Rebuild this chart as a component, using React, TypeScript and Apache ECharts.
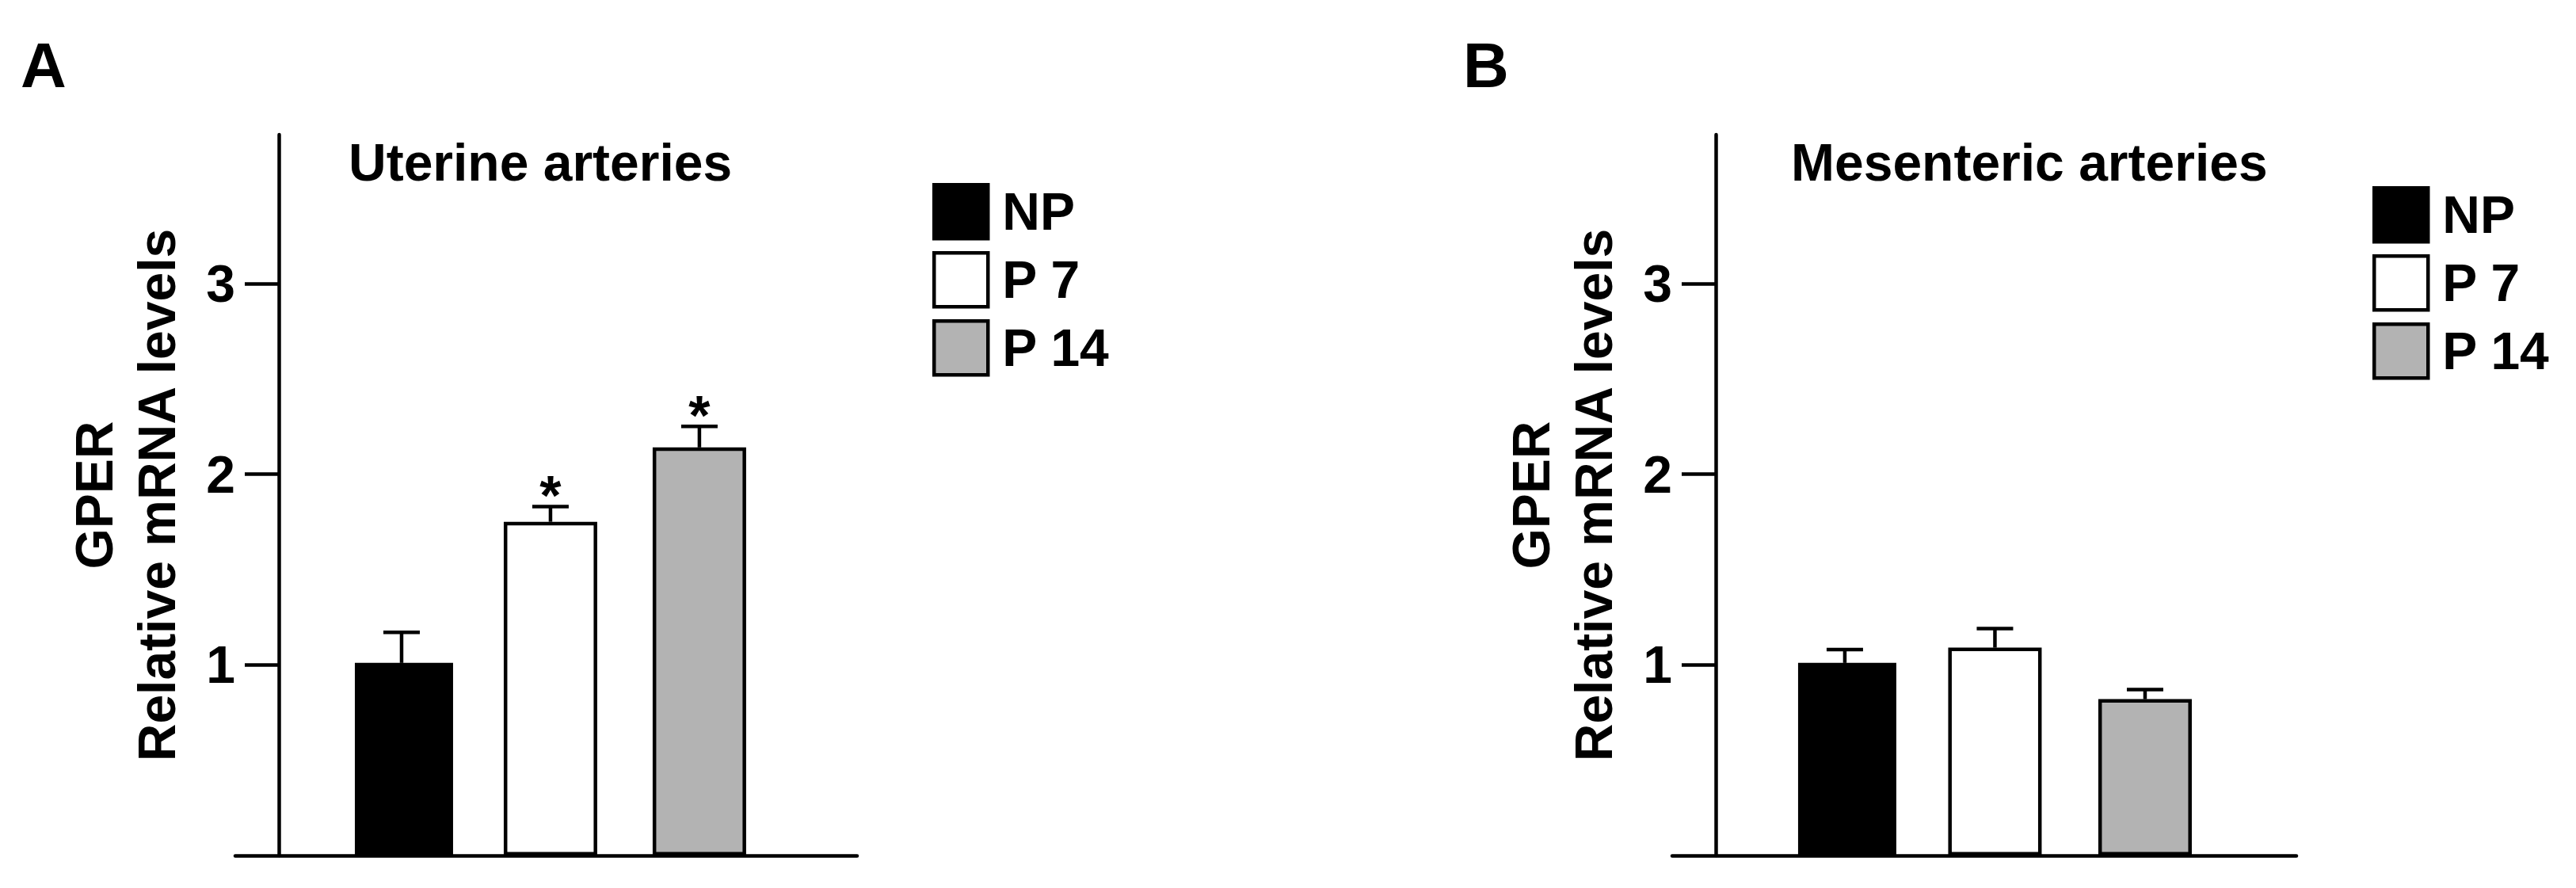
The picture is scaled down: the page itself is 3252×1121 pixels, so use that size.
import React, { useEffect, useRef } from "react";
import * as echarts from "echarts";

const categories = ["NP", "P 7", "P 14"];
const uterineMeans = [1.01, 1.75, 2.14];
const uterineSem = [0.16, 0.08, 0.11];
const uterineSig = ["", "*", "*"];
const mesentericMeans = [1.01, 1.09, 0.82];
const mesentericSem = [0.07, 0.1, 0.05];
const mesentericSig = ["", "", ""];
const yTicks = [1, 2, 3];
const panelTitles = ["Uterine arteries", "Mesenteric arteries"];
const panelLetters = ["A", "B"];
const yAxisName = "GPER\nRelative mRNA levels";

const FONT = "Liberation Sans, Arial, Helvetica, sans-serif";
const fills = ["#000000", "#ffffff", "#b3b3b3"];
const LW = 4.5;

export default function App() {
  const ref = useRef<HTMLDivElement>(null);
  useEffect(() => {
    if (!ref.current) return;
    const chart = echarts.init(ref.current, null, { renderer: "svg" });

    const panels = [
      { means: uterineMeans, sem: uterineSem, sig: uterineSig, left: 297, width: 785, xMin: -0.117, xMax: 4.059, titleLeft: 440, legendLeft: 1177, legendTop: 231, letterLeft: 26 },
      { means: mesentericMeans, sem: mesentericSem, sig: mesentericSig, left: 2111, width: 788, xMin: -0.15, xMax: 4.008, titleLeft: 2261, legendLeft: 2995, legendTop: 235, letterLeft: 1847 },
    ];

    const grid: any[] = [];
    const xAxis: any[] = [];
    const yAxis: any[] = [];
    const series: any[] = [];
    const title: any[] = [];
    const legend: any[] = [];

    panels.forEach((p, pi) => {
      grid.push({ left: p.left, width: p.width, top: 170, height: 910, containLabel: false });
      xAxis.push({
        type: "value",
        gridIndex: pi,
        min: p.xMin,
        max: p.xMax,
        axisLine: { show: true, onZero: false, lineStyle: { color: "#000", width: LW } },
        axisTick: { show: false },
        axisLabel: { show: false },
        splitLine: { show: false },
      });
      yAxis.push({
        type: "value",
        gridIndex: pi,
        min: 0,
        max: 3.78,
        interval: 1,
        offset: -55,
        axisLine: { show: true, onZero: false, lineStyle: { color: "#000", width: LW } },
        axisTick: { show: true, length: 43, customValues: yTicks, lineStyle: { color: "#000", width: LW } },
        axisLabel: { customValues: yTicks, margin: 55, fontSize: 66, fontWeight: "bold", color: "#000", fontFamily: FONT },
        splitLine: { show: false },
        name: yAxisName,
        nameLocation: "middle",
        nameRotate: 90,
        nameGap: 115,
        nameTextStyle: { fontSize: 66, fontWeight: "bold", color: "#000", fontFamily: FONT, lineHeight: 79, align: "center" },
      });
      categories.forEach((c, i) => {
        series.push({
          type: "bar",
          name: c,
          xAxisIndex: pi,
          yAxisIndex: pi,
          data: [[i + 1, p.means[i]]],
          barWidth: i === 0 ? 124 : 118,
          barGap: "-100%",
          itemStyle: { color: fills[i], borderColor: "#000", borderWidth: i === 0 ? 0 : LW },
          z: 2,
        });
      });
      series.push({
        type: "custom",
        name: "err" + pi,
        xAxisIndex: pi,
        yAxisIndex: pi,
        data: p.means.map((m, i) => [i + 1, m, m + p.sem[i]]),
        z: 3,
        renderItem: (params: any, api: any) => {
          const x = api.value(0);
          const top = api.coord([x, api.value(1)]);
          const cap = api.coord([x, api.value(2)]);
          const s = p.sig[params.dataIndex];
          const children: any[] = [
            { type: "line", shape: { x1: top[0], y1: top[1], x2: cap[0], y2: cap[1] }, style: { stroke: "#000", lineWidth: LW } },
            { type: "line", shape: { x1: cap[0] - 23, y1: cap[1], x2: cap[0] + 23, y2: cap[1] }, style: { stroke: "#000", lineWidth: LW } },
          ];
          if (s) {
            children.push({
              type: "text",
              x: cap[0],
              y: cap[1] - 13,
              style: { text: s, fontSize: 70, fontWeight: "bold", fontFamily: FONT, fill: "#000", align: "center", verticalAlign: "middle" },
            });
          }
          return { type: "group", children };
        },
      });
      title.push({
        text: panelTitles[pi],
        left: p.titleLeft,
        top: 172,
        padding: 0,
        textStyle: { fontSize: 66, fontWeight: "bold", color: "#000", fontFamily: FONT },
      });
      title.push({
        text: panelLetters[pi],
        left: p.letterLeft,
        top: 42,
        padding: 0,
        textStyle: { fontSize: 80, fontWeight: "bold", color: "#000", fontFamily: FONT },
      });
      legend.push({
        orient: "vertical",
        left: p.legendLeft,
        top: p.legendTop,
        padding: 0,
        itemWidth: 68,
        itemHeight: 68,
        itemGap: 13.5,
        icon: "rect",
        selectedMode: false,
        data: categories,
        itemStyle: { borderWidth: LW, borderColor: "#000" },
        textStyle: { fontSize: 66, fontWeight: "bold", color: "#000", fontFamily: FONT, padding: [0, 0, 0, 13], lineHeight: 68 },
      });
    });

    chart.setOption({
      animation: false,
      backgroundColor: "#ffffff",
      grid,
      xAxis,
      yAxis,
      series,
      title,
      legend,
    });
    return () => chart.dispose();
  }, []);

  return <div ref={ref} style={{ position: "absolute", left: 0, top: 0, width: 3252, height: 1121 }} />;
}
